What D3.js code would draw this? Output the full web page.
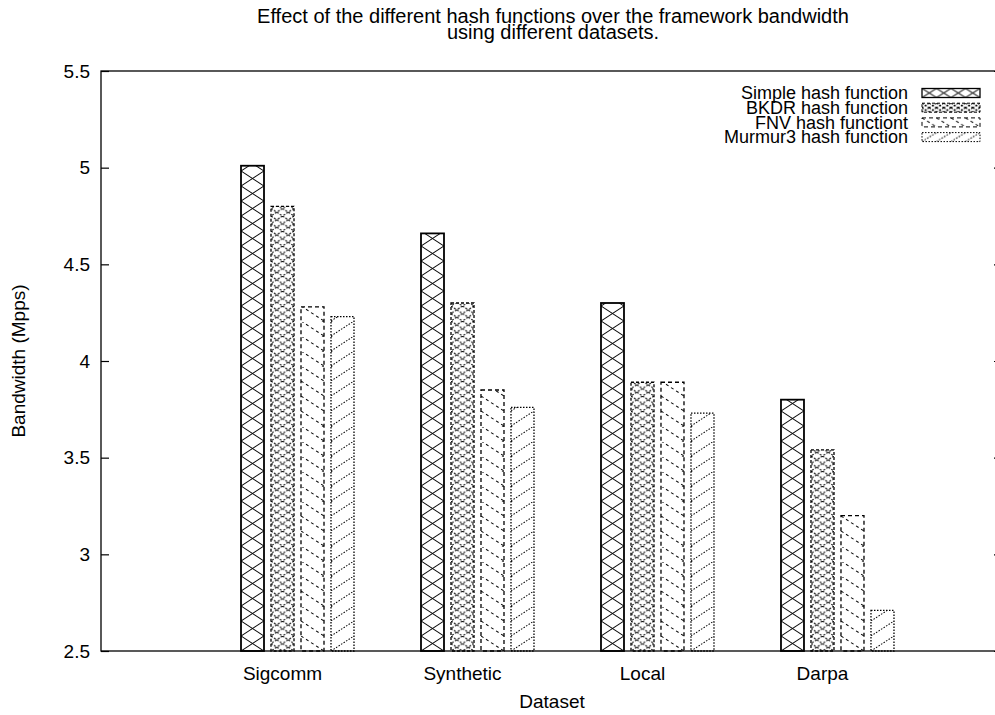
<!DOCTYPE html>
<html><head><meta charset="utf-8">
<script src="https://cdn.jsdelivr.net/npm/d3@7"></script>
<style>body{margin:0;background:#fff}svg{display:block}</style>
</head><body>
<svg id="c" width="995" height="715"></svg>
<script>
const categories = ["Sigcomm", "Synthetic", "Local", "Darpa"];
const seriesNames = ["Simple hash function", "BKDR hash function", "FNV hash functiont", "Murmur3 hash function"];
const simpleVals = [5.01, 4.66, 4.30, 3.80];
const bkdrVals = [4.80, 4.30, 3.89, 3.54];
const fnvVals = [4.28, 3.85, 3.89, 3.20];
const murmurVals = [4.23, 3.76, 3.73, 2.71];
const yTicks = [2.5, 3, 3.5, 4, 4.5, 5, 5.5];
const titleLines = ["Effect of the different hash functions over the framework bandwidth", "using different datasets."];
const xTitle = "Dataset";
const yTitle = "Bandwidth (Mpps)";

const series = [simpleVals, bkdrVals, fnvVals, murmurVals];
const FONT = "'Liberation Sans', Arial, Helvetica, sans-serif";
const FS = 19;
const L = 101, R = 1002, T = 71, B = 651;

const svg = d3.select("#c");
const defs = svg.append("defs");

const y = d3.scaleLinear().domain([2.5, 5.5]).range([B, T]);
const x = d3.scaleLinear().domain([-1.0917, 3.914]).range([L, R]);
const slot = 1 / 6, bw = 23 / 180;

const styles = [
  {bdash: null, bwidth: 1.8, kind: "cross", dash: null, lw: 1},
  {bdash: "3,2", bwidth: 1.3, kind: "cross2", dash: "2,1.5", lw: 1.1},
  {bdash: "4,3", bwidth: 1.3, kind: "back", dash: "3,3", lw: 1},
  {bdash: "1.5,1.5", bwidth: 1.3, kind: "fwd", dash: "1.5,1.5", lw: 1}
];

function makePattern(id, kind, px, py, w, h, dash, lw) {
  const p = defs.append("pattern").attr("id", id).attr("patternUnits", "userSpaceOnUse")
    .attr("x", px).attr("y", py).attr("width", w).attr("height", h);
  p.append("rect").attr("width", w).attr("height", h).attr("fill", "#fff");
  const lines = [];
  if (kind === "cross" || kind === "cross2") { lines.push([0, 0, w, h]); lines.push([w, 0, 0, h]); }
  if (kind === "back") lines.push([0, 0, w, h]);
  if (kind === "fwd") lines.push([0, h, w, 0]);
  lines.forEach(l => p.append("line").attr("x1", l[0]).attr("y1", l[1]).attr("x2", l[2]).attr("y2", l[3])
    .attr("stroke", "#000").attr("stroke-width", lw).attr("stroke-dasharray", dash));
}

const barData = [];
series.forEach((vals, j) => vals.forEach((v, i) => barData.push({i, j, v})));
barData.forEach(d => {
  const x0 = x(d.i + (d.j - 1.5) * slot - bw / 2), x1 = x(d.i + (d.j - 1.5) * slot + bw / 2);
  d.x0 = x0; d.w = x1 - x0; d.top = y(d.v);
  const st = styles[d.j];
  const small = st.kind === "cross2";
  makePattern("p" + d.i + "_" + d.j, st.kind, x0, B, small ? d.w / 2 : d.w, small ? 7.5 : 15, st.dash, st.lw);
});
svg.append("g").selectAll("rect").data(barData).join("rect")
  .attr("x", d => d.x0).attr("y", d => d.top).attr("width", d => d.w).attr("height", d => B - d.top)
  .attr("fill", d => `url(#p${d.i}_${d.j})`).attr("stroke", "#000")
  .attr("stroke-width", d => styles[d.j].bwidth).attr("stroke-dasharray", d => styles[d.j].bdash);

svg.append("rect").attr("x", L).attr("y", T).attr("width", R - L).attr("height", B - T)
  .attr("fill", "none").attr("stroke", "#000").attr("stroke-width", 1.3);

const yAxis = d3.axisLeft(y).tickValues(yTicks).tickSizeInner(-8).tickSizeOuter(0).tickPadding(11).tickFormat(d3.format("~g"));
const ga = svg.append("g").attr("transform", `translate(${L},0)`).call(yAxis);
ga.select(".domain").remove();
ga.selectAll("line").attr("stroke", "#000").attr("stroke-width", 1.2);
ga.selectAll("text").attr("font-family", FONT).attr("font-size", FS).attr("fill", "#000");
const yAxisR = d3.axisRight(y).tickValues(yTicks).tickSizeInner(-8).tickSizeOuter(0).tickFormat("");
const gr = svg.append("g").attr("transform", `translate(${R},0)`).call(yAxisR);
gr.select(".domain").remove();
gr.selectAll("line").attr("stroke", "#000").attr("stroke-width", 1.2);

svg.append("g").selectAll("text").data(categories).join("text")
  .attr("x", (d, i) => x(i) - 15).attr("y", 680).attr("text-anchor", "middle")
  .attr("font-family", FONT).attr("font-size", FS).text(d => d);

svg.append("text").attr("x", 552).attr("y", 708).attr("text-anchor", "middle")
  .attr("font-family", FONT).attr("font-size", FS).text(xTitle);
svg.append("text").attr("transform", "translate(25,361) rotate(-90)").attr("text-anchor", "middle")
  .attr("font-family", FONT).attr("font-size", FS).text(yTitle);

svg.append("g").selectAll("text").data(titleLines).join("text")
  .attr("x", 553).attr("y", (d, i) => 23 + i * 16).attr("text-anchor", "middle")
  .attr("font-family", FONT).attr("font-size", 20).text(d => d);

const rowY = [93, 107.7, 122.4, 137.1];
const lg = svg.append("g");
seriesNames.forEach((name, j) => {
  const st = styles[j];
  const bx = 922, bwid = 58, bh = 9, by = rowY[j] - bh / 2;
  const small = st.kind === "cross2";
  makePattern("lp" + j, st.kind, bx, by, small ? bwid / 8 : bwid / 4, small ? bh / 2 : bh, st.dash, st.lw);
  lg.append("text").attr("x", 908).attr("y", rowY[j]).attr("dy", "0.35em").attr("text-anchor", "end")
    .attr("font-family", FONT).attr("font-size", 18).text(name);
  lg.append("rect").attr("x", bx).attr("y", by).attr("width", bwid).attr("height", bh)
    .attr("fill", `url(#lp${j})`).attr("stroke", "#000").attr("stroke-width", st.bwidth === 1.8 ? 1.3 : 1)
    .attr("stroke-dasharray", st.bdash);
});
</script>
</body></html>
